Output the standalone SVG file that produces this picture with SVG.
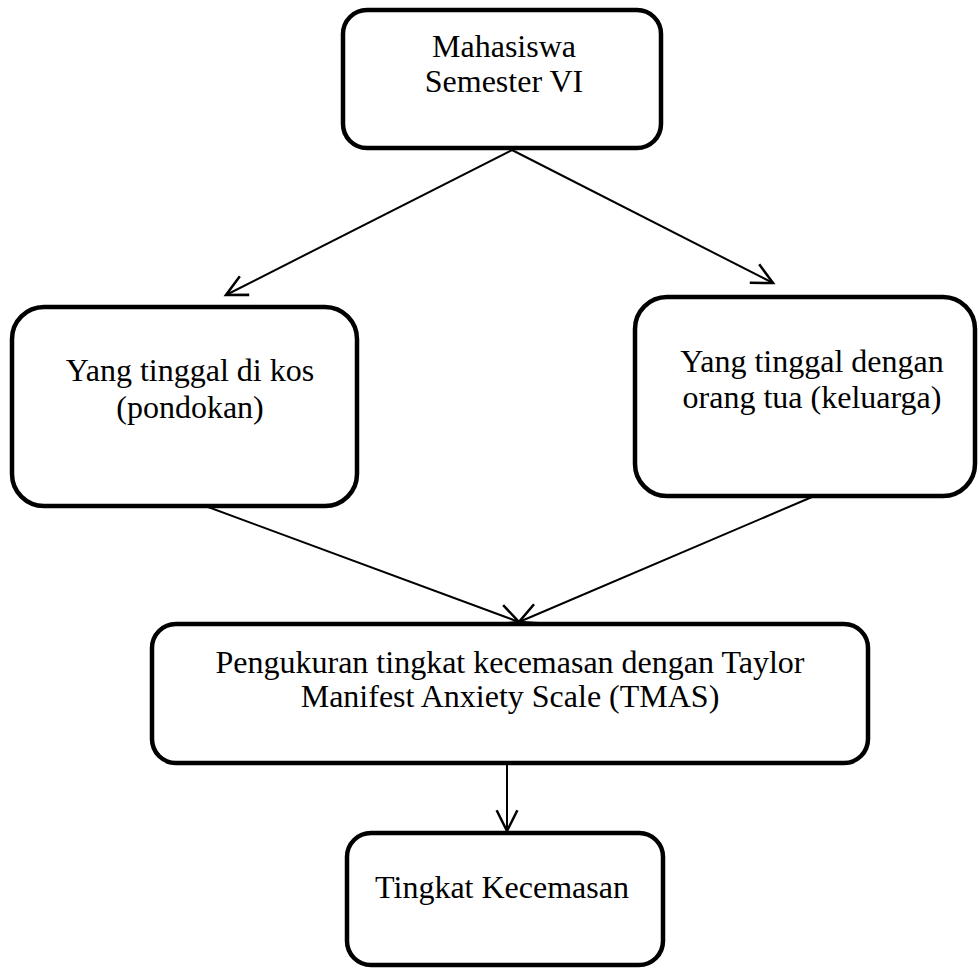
<svg xmlns="http://www.w3.org/2000/svg" width="979" height="969" viewBox="0 0 979 969">
<style>
.box{fill:#fff;stroke:#000;stroke-width:4.5}
.lbl{font-family:"Liberation Serif","Times New Roman",serif;font-size:32px;fill:#000;text-anchor:middle}
.con{stroke:#000;stroke-width:2;fill:none}
</style>
<defs>
<marker id="arr" markerUnits="userSpaceOnUse" markerWidth="30" markerHeight="30" viewBox="-22 -12 26 24" refX="0" refY="0" orient="auto">
<path d="M-18,-9 L0,0 L-18,9" fill="none" stroke="#000" stroke-width="2.2"/>
</marker>
</defs>
<rect width="979" height="969" fill="#fff"/>
<g id="connectors">
<line class="con" x1="512" y1="150" x2="226" y2="295" marker-end="url(#arr)"/>
<line class="con" x1="512" y1="150" x2="773" y2="283" marker-end="url(#arr)"/>
<line class="con" x1="208" y1="507" x2="519" y2="622" marker-end="url(#arr)"/>
<line class="con" x1="812" y1="497" x2="519" y2="622" marker-end="url(#arr)"/>
<line class="con" x1="507" y1="765" x2="507" y2="831" marker-end="url(#arr)"/>
</g>
<g id="n1">
<rect class="box" x="343" y="10" width="318" height="138" rx="24"/>
<text class="lbl" x="504" y="57">Mahasiswa</text>
<text class="lbl" x="504" y="92">Semester VI</text>
</g>
<g id="n2">
<rect class="box" x="12" y="307" width="345" height="199" rx="32"/>
<text class="lbl" x="190" y="381">Yang tinggal di kos</text>
<text class="lbl" x="190" y="418">(pondokan)</text>
</g>
<g id="n3">
<rect class="box" x="635" y="297" width="340" height="199" rx="32"/>
<text class="lbl" x="812" y="372">Yang tinggal dengan</text>
<text class="lbl" x="812" y="408">orang tua (keluarga)</text>
</g>
<g id="n4">
<rect class="box" x="152" y="624" width="716" height="139" rx="24"/>
<text class="lbl" x="510" y="673">Pengukuran tingkat kecemasan dengan Taylor</text>
<text class="lbl" x="510" y="707">Manifest Anxiety Scale (TMAS)</text>
</g>
<g id="n5">
<rect class="box" x="347" y="833" width="316" height="132" rx="24"/>
<text class="lbl" x="502" y="898">Tingkat Kecemasan</text>
</g>
</svg>
